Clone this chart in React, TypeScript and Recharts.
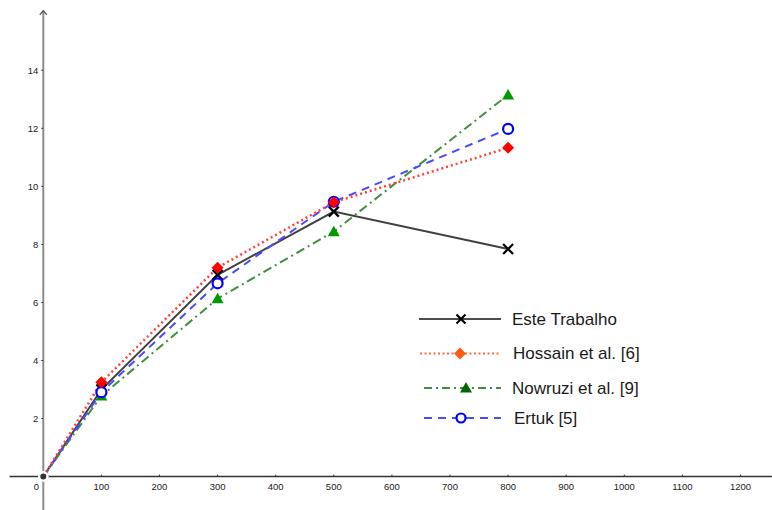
import React from "react";
import { LineChart, Line, XAxis, YAxis, ReferenceLine, ReferenceDot, Legend } from "recharts";

const X_VALUES = [0, 100, 300, 500, 800];
const ESTE = [0, 3.0, 6.95, 9.13, 7.84];
const HOSSAIN = [0, 3.25, 7.2, 9.45, 11.33];
const NOWRUZI = [0, 2.78, 6.13, 8.44, 13.15];
const ERTUK = [0, 2.91, 6.66, 9.47, 11.98];
const ORIGIN = [0, null, null, null, null];
const X_TICKS = [0, 100, 200, 300, 400, 500, 600, 700, 800, 900, 1000, 1100, 1200];
const Y_TICKS = [2, 4, 6, 8, 10, 12, 14];
const SERIES_NAMES = ["Este Trabalho", "Hossain et al. [6]", "Nowruzi et al. [9]", "Ertuk [5]"];

const X_DOMAIN: [number, number] = [-74.5, 1254.2];
const Y_DOMAIN: [number, number] = [-1.15, 16.42];

const data = X_VALUES.map((x, i) => ({
  x,
  este: ESTE[i],
  hossain: HOSSAIN[i],
  nowruzi: NOWRUZI[i],
  ertuk: ERTUK[i],
  origin: ORIGIN[i],
}));

const FONT = "'Liberation Sans', Arial, sans-serif";

const xMark = (cx: number, cy: number, color: string, s = 5) => (
  <g>
    <line x1={cx - s} y1={cy - s} x2={cx + s} y2={cy + s} stroke={color} strokeWidth={2.2} />
    <line x1={cx - s} y1={cy + s} x2={cx + s} y2={cy - s} stroke={color} strokeWidth={2.2} />
  </g>
);
const diamond = (cx: number, cy: number, color: string, s = 6) => (
  <path d={`M${cx},${cy - s}L${cx + s},${cy}L${cx},${cy + s}L${cx - s},${cy}Z`} fill={color} />
);
const triangle = (cx: number, cy: number, color: string, s = 6) => (
  <path d={`M${cx},${cy - s}L${cx + s},${cy + s * 0.75}L${cx - s},${cy + s * 0.75}Z`} fill={color} />
);
const circle = (cx: number, cy: number, color: string, r = 5) => (
  <circle cx={cx} cy={cy} r={r} fill="#ffffff" stroke={color} strokeWidth={2.2} />
);

const makeDot = (draw: (cx: number, cy: number) => React.ReactElement) => (props: any) => {
  const { cx, cy, index, payload } = props;
  const k = `d-${index}-${payload ? payload.x : ""}`;
  if (cx == null || cy == null) return <g key={k} />;
  const isOrigin = payload ? payload.x === 0 : index === 0;
  if (isOrigin) return <g key={k} />;
  return <g key={k}>{draw(cx, cy)}</g>;
};

const originDot = (props: any) => {
  const { cx, cy, index } = props;
  if (cx == null || cy == null) return <g key={`o-${index}`} />;
  return (
    <g key={`o-${index}`}>
      <circle cx={cx} cy={cy} r={4.5} fill="#333333" stroke="#111111" strokeWidth={1} />
    </g>
  );
};

const legendRows = [
  { y: 19, x1: 9, x2: 91, mx: 51, dash: undefined as string | undefined, color: "#4d4d4d", mark: (cx: number, cy: number) => xMark(cx, cy, "#000000", 4.5) },
  { y: 53.5, x1: 10, x2: 91, mx: 50, dash: "2 2.5", color: "#ff6a3d", mark: (cx: number, cy: number) => diamond(cx, cy, "#ff5a14", 6) },
  { y: 88, x1: 14, x2: 91, mx: 56, dash: "8 4 2 4", color: "#3f8f3f", mark: (cx: number, cy: number) => triangle(cx, cy, "#006600", 6) },
  { y: 118, x1: 14, x2: 91, mx: 51, dash: "8 6", color: "#4a4aff", mark: (cx: number, cy: number) => circle(cx, cy, "#0000ff", 4.5) },
];
const legendTextX = [102, 103, 102, 104];

const renderLegend = () => (
  <svg width={260} height={135} style={{ display: "block" }}>
    {legendRows.map((r, i) => (
      <g key={i}>
        <line x1={r.x1} y1={r.y} x2={r.x2} y2={r.y} stroke={r.color} strokeWidth={2} strokeDasharray={r.dash} />
        {r.mark(r.mx, r.y)}
        <text x={legendTextX[i]} y={r.y} dominantBaseline="central" fontFamily={FONT} fontSize={17} fill="#1a1a1a">
          {SERIES_NAMES[i]}
        </text>
      </g>
    ))}
  </svg>
);

const xTickShape = (v: number) => (props: any) => {
  const { cx, cy } = props;
  return (
    <g>
      {v !== 0 && <line x1={cx} y1={cy} x2={cx} y2={cy - 2} stroke="#333" strokeWidth={1} />}
      <text x={v === 0 ? cx - 7 : cx} y={cy + 13} textAnchor="middle" fontFamily={FONT} fontSize={9.5} fill="#222">
        {v}
      </text>
    </g>
  );
};

const yTickShape = (v: number) => (props: any) => {
  const { cx, cy } = props;
  return (
    <g>
      <line x1={cx - 2} y1={cy} x2={cx} y2={cy} stroke="#333" strokeWidth={1} />
      <text x={cx - 5} y={cy} textAnchor="end" dominantBaseline="central" fontFamily={FONT} fontSize={9.5} fill="#222">
        {v}
      </text>
    </g>
  );
};

const arrowShape = (props: any) => {
  const { cx, cy } = props;
  return <path d={`M${cx - 3.5},${cy + 4}L${cx},${cy}L${cx + 3.5},${cy + 4}`} fill="none" stroke="#555" strokeWidth={1.2} />;
};

export default function App() {
  return (
    <div style={{ position: "absolute", left: 0, top: 0, width: 772, height: 510, background: "#fff" }}>
      <LineChart width={772} height={510} data={data} margin={{ top: 0, right: 0, bottom: 0, left: 0 }}>
        <XAxis type="number" dataKey="x" domain={X_DOMAIN} hide />
        <YAxis type="number" domain={Y_DOMAIN} hide />
        <ReferenceLine segment={[{ x: 0, y: -1.15 }, { x: 0, y: 16.05 }]} stroke="#8c8c8c" strokeWidth={2} ifOverflow="visible" />
        <ReferenceLine segment={[{ x: -58, y: 0 }, { x: 1254, y: 0 }]} stroke="#333333" strokeWidth={1.5} ifOverflow="visible" />
        <ReferenceDot x={0} y={16.05} r={0} shape={arrowShape} ifOverflow="visible" />
        {X_TICKS.map((v) => (
          <ReferenceDot key={`xt-${v}`} x={v} y={0} r={0} shape={xTickShape(v)} ifOverflow="visible" />
        ))}
        {Y_TICKS.map((v) => (
          <ReferenceDot key={`yt-${v}`} x={0} y={v} r={0} shape={yTickShape(v)} ifOverflow="visible" />
        ))}
        <Line
          type="linear"
          dataKey="este"
          name={SERIES_NAMES[0]}
          stroke="#404040"
          strokeWidth={2}
          dot={makeDot((cx, cy) => xMark(cx, cy, "#000000", 5))}
          isAnimationActive={false}
        />
        <Line
          type="linear"
          dataKey="nowruzi"
          name={SERIES_NAMES[2]}
          stroke="#3f8f3f"
          strokeWidth={2}
          strokeDasharray="9 4 2 4"
          dot={makeDot((cx, cy) => triangle(cx, cy, "#009900", 6))}
          isAnimationActive={false}
        />
        <Line
          type="linear"
          dataKey="ertuk"
          name={SERIES_NAMES[3]}
          stroke="#4a4aff"
          strokeWidth={2}
          strokeDasharray="8 6"
          dot={makeDot((cx, cy) => circle(cx, cy, "#0000ff", 5))}
          isAnimationActive={false}
        />
        <Line
          type="linear"
          dataKey="hossain"
          name={SERIES_NAMES[1]}
          stroke="#ff4040"
          strokeWidth={2.5}
          strokeDasharray="2 3"
          dot={makeDot((cx, cy) => diamond(cx, cy, "#ff0000", 6))}
          isAnimationActive={false}
        />
        <Line
          type="linear"
          dataKey="origin"
          stroke="#333333"
          strokeWidth={0}
          legendType="none"
          dot={originDot}
          isAnimationActive={false}
        />
        <ReferenceDot x={0} y={0} r={4.5} fill="#333333" stroke="#111111" strokeWidth={1} ifOverflow="visible" />
        <Legend
          layout="vertical"
          align="center"
          verticalAlign="middle"
          content={renderLegend}
          wrapperStyle={{ position: "absolute", left: 410, top: 300, width: 260, height: 135 }}
        />
      </LineChart>
    </div>
  );
}
